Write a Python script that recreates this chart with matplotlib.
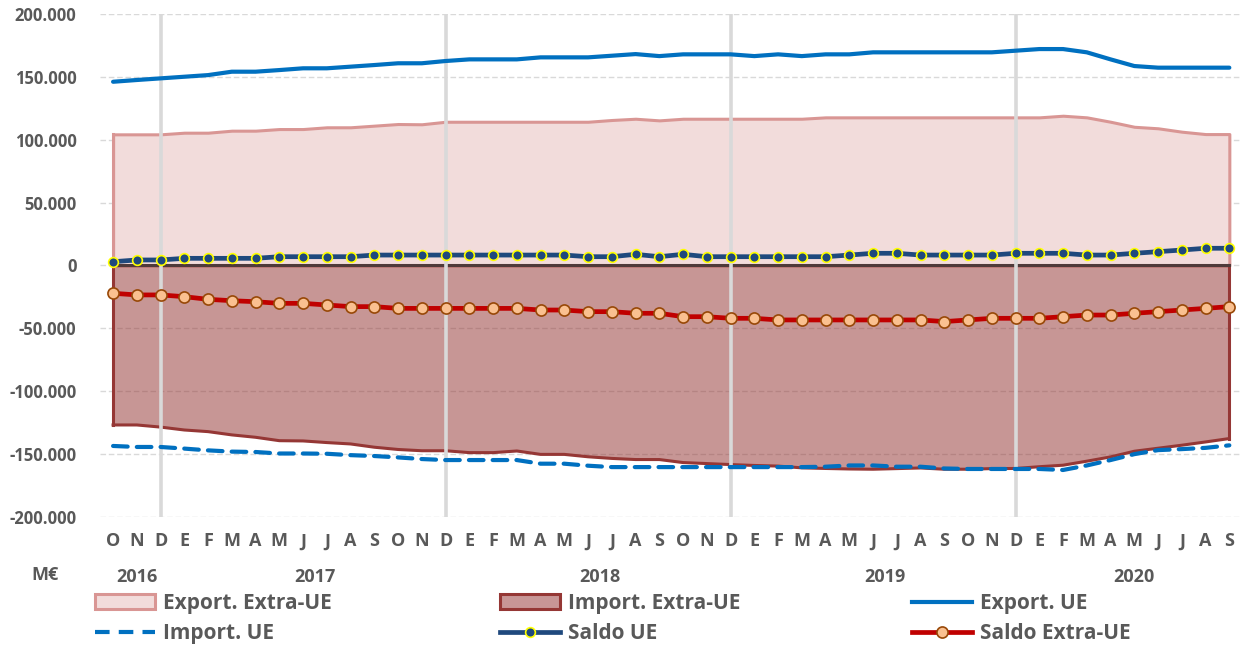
import matplotlib
matplotlib.use("Agg")
import matplotlib.pyplot as plt
import numpy as np
from matplotlib.ticker import FuncFormatter, FixedLocator
from matplotlib.patches import Patch
from matplotlib.lines import Line2D

plt.rcParams["font.family"] = ["Open Sans", "DejaVu Sans"]

# Monthly data, Oct 2016 - Sep 2020 (M€)
months = ["O", "N", "D",
          "E", "F", "M", "A", "M", "J", "J", "A", "S", "O", "N", "D",
          "E", "F", "M", "A", "M", "J", "J", "A", "S", "O", "N", "D",
          "E", "F", "M", "A", "M", "J", "J", "A", "S", "O", "N", "D",
          "E", "F", "M", "A", "M", "J", "J", "A", "S"]
years = ["2016", "2017", "2018", "2019", "2020"]
year_pos = [1, 8.5, 20.5, 32.5, 43]
dec_pos = [2, 14, 26, 38]

export_extra = [104300, 104300, 104300, 105600, 105600, 107200, 107200, 108500, 108500, 109900, 109900, 111200,
                112500, 112300, 114300, 114300, 114300, 114300, 114300, 114300, 114300, 115700, 116700, 115400,
                116700, 116700, 116700, 116700, 116700, 116700,
                117800, 117800, 117800, 117800, 117800, 117800, 117800, 117800, 117800, 117800, 119100, 117800,
                114300, 110300, 109100, 106400, 104500, 104500]
import_extra = [-126800, -126800, -128500, -130800, -132100, -134700, -136600, -139300, -139500, -140800, -141900, -144500,
                -146300, -147300, -147300, -148800, -148800, -147500, -150200, -150200, -152100, -153400, -154300, -154300,
                -156700, -157500, -158300, -159000, -159500, -160900,
                -161400, -161800, -162000, -161500, -161000, -162000, -162000, -161500, -161400, -160000, -158800, -155600,
                -152200, -147700, -145300, -142900, -140300, -137600]
export_ue = [146100, 147500, 148800, 150100, 151400, 154100, 154100, 155400, 156800, 156800, 158100, 159400,
             160800, 160800, 162600, 163900, 163900, 163900, 165500, 165500, 165500, 166800, 168100, 166500,
             167900, 167900, 167900, 166500, 167900, 166500,
             167900, 167900, 169500, 169500, 169500, 169500, 169500, 169500, 170800, 172100, 172100, 169500,
             163900, 158600, 157300, 157300, 157300, 157300]
import_ue = [-143500, -144300, -144300, -145600, -147000, -148000, -148300, -149500, -149500, -149700, -150800, -151500,
             -152600, -153900, -154700, -154700, -154700, -154700, -157600, -157600, -159200, -160300, -160300, -160300,
             -160300, -160300, -160300, -160300, -160300, -160300,
             -160000, -159000, -159000, -160000, -160000, -161400, -161800, -161800, -161800, -161800, -162600, -159000,
             -154700, -150000, -146800, -146000, -145000, -143000]
saldo_ue = [3000, 4400, 4400, 5700, 5700, 5700, 5700, 7000, 7000, 7000, 7000, 8300,
            8300, 8300, 8300, 8300, 8300, 8300, 8300, 8300, 7000, 7000, 8900, 7000,
            8900, 7000, 7000, 7000, 7000, 7000,
            7000, 8300, 9700, 9700, 8300, 8300, 8300, 8300, 9700, 9700, 9700, 8300,
            8300, 9700, 11000, 12300, 13700, 13700]
saldo_extra = [-22100, -23400, -23400, -24800, -26900, -28000, -28800, -30100, -30100, -31400, -32700, -32700,
               -34100, -34100, -34100, -34100, -34100, -34100, -35400, -35400, -36700, -36700, -38000, -38000,
               -40700, -40700, -42000, -42000, -43300, -43300,
               -43300, -43300, -43300, -43300, -43300, -44600, -43300, -42000, -42000, -42000, -40700, -39400,
               -39400, -38000, -36700, -35400, -34100, -32700]

x = np.arange(len(months))
gray_txt = "#595959"

fig = plt.figure(figsize=(12.44, 6.47), dpi=100)
ax = fig.add_axes([0.0804, 0.2009, 0.9164, 0.7775])

# areas
ax.fill_between(x, 0, export_extra, facecolor="#f2dcdb", edgecolor="#d99694", linewidth=2.2, zorder=1)
ax.plot([x[0], x[0]], [0, export_extra[0]], color="#d99694", lw=2.2, zorder=1)
ax.fill_between(x, 0, import_extra, facecolor="#953735", alpha=0.52, linewidth=0, zorder=2)
ax.plot(x, import_extra, color="#953735", lw=2.2, zorder=2)
ax.plot([x[0], x[0]], [0, import_extra[0]], color="#953735", lw=2.2, zorder=2)
ax.plot([x[-1], x[-1]], [0, import_extra[-1]], color="#953735", lw=2.2, zorder=2)
ax.plot([x[0], x[-1]], [0, 0], color="#4f3a3a", lw=2.2, zorder=3)

# year separators
for d in dec_pos:
    ax.axvline(d, color="#d9d9d9", lw=2.6, zorder=3)

# lines
ax.plot(x, export_ue, color="#0070c0", lw=3, zorder=4, solid_capstyle="round")
ax.plot(x, import_ue, color="#0070c0", lw=3, ls=(0, (3.5, 2.2)), zorder=4, dash_capstyle="round")
ax.plot(x, saldo_ue, color="#1f497d", lw=3.4, marker="o", ms=7, mfc="#1f497d", mec="#ffff00", mew=1.2, zorder=5)
ax.plot(x, saldo_extra, color="#c00000", lw=3.4, marker="o", ms=8, mfc="#fac090", mec="#984807", mew=1.2, zorder=5)

# axes formatting
ax.set_xlim(-0.55, 47.45)
ax.set_ylim(-200000, 200000)
ax.yaxis.set_major_locator(FixedLocator(np.arange(-200000, 200001, 50000)))
ax.yaxis.set_major_formatter(FuncFormatter(lambda v, p: f"{int(v):,}".replace(",", ".")))
ax.grid(axis="y", color="#d9d9d9", ls=(0, (4, 2)), lw=1, zorder=0)
ax.set_axisbelow(True)
ax.set_xticks(x)
ax.set_xticklabels(months)
ax.tick_params(axis="both", length=0, colors=gray_txt)
ax.tick_params(axis="y", pad=17, labelsize=12)
ax.tick_params(axis="x", pad=11, labelsize=13)
for lab in ax.get_xticklabels() + ax.get_yticklabels():
    lab.set_fontweight("bold")
for s in ax.spines.values():
    s.set_visible(False)

# year labels and unit
for yl, yp in zip(years, year_pos):
    ax.text(yp, -0.12, yl, transform=ax.get_xaxis_transform(), ha="center", va="center",
            fontsize=13, fontweight="bold", color=gray_txt)
fig.text(45 / 1244, 1 - 575 / 647, "M€", ha="center", va="center", fontsize=13, fontweight="bold", color=gray_txt)

# legend in three columns
h_expx = Patch(facecolor="#f2dcdb", edgecolor="#d99694", linewidth=2.2)
h_impx = Patch(facecolor="#c89696", edgecolor="#953735", linewidth=2.2)
h_expue = Line2D([], [], color="#0070c0", lw=3)
h_impue = Line2D([], [], color="#0070c0", lw=3, ls=(0, (3.5, 2.2)))
h_sue = Line2D([], [], color="#1f497d", lw=3.4, marker="o", ms=7, mfc="#1f497d", mec="#ffff00", mew=1.2)
h_sx = Line2D([], [], color="#c00000", lw=3.4, marker="o", ms=8, mfc="#fac090", mec="#984807", mew=1.2)

cols = [
    ([h_expx, h_impue], ["Export. Extra-UE", "Import. UE"], 95),
    ([h_impx, h_sue], ["Import. Extra-UE", "Saldo UE"], 500),
    ([h_expue, h_sx], ["Export. UE", "Saldo Extra-UE"], 912),
]
for handles, labels, xp in cols:
    fig.legend(handles, labels, loc="upper left", bbox_to_anchor=(xp / 1244, 1 - 593 / 647),
               frameon=False, borderpad=0, borderaxespad=0, handlelength=2.9, handleheight=0.7,
               handletextpad=0.35, labelspacing=0.45, prop={"size": 15, "weight": "bold"},
               labelcolor=gray_txt)

plt.savefig("out.png", dpi=100)
